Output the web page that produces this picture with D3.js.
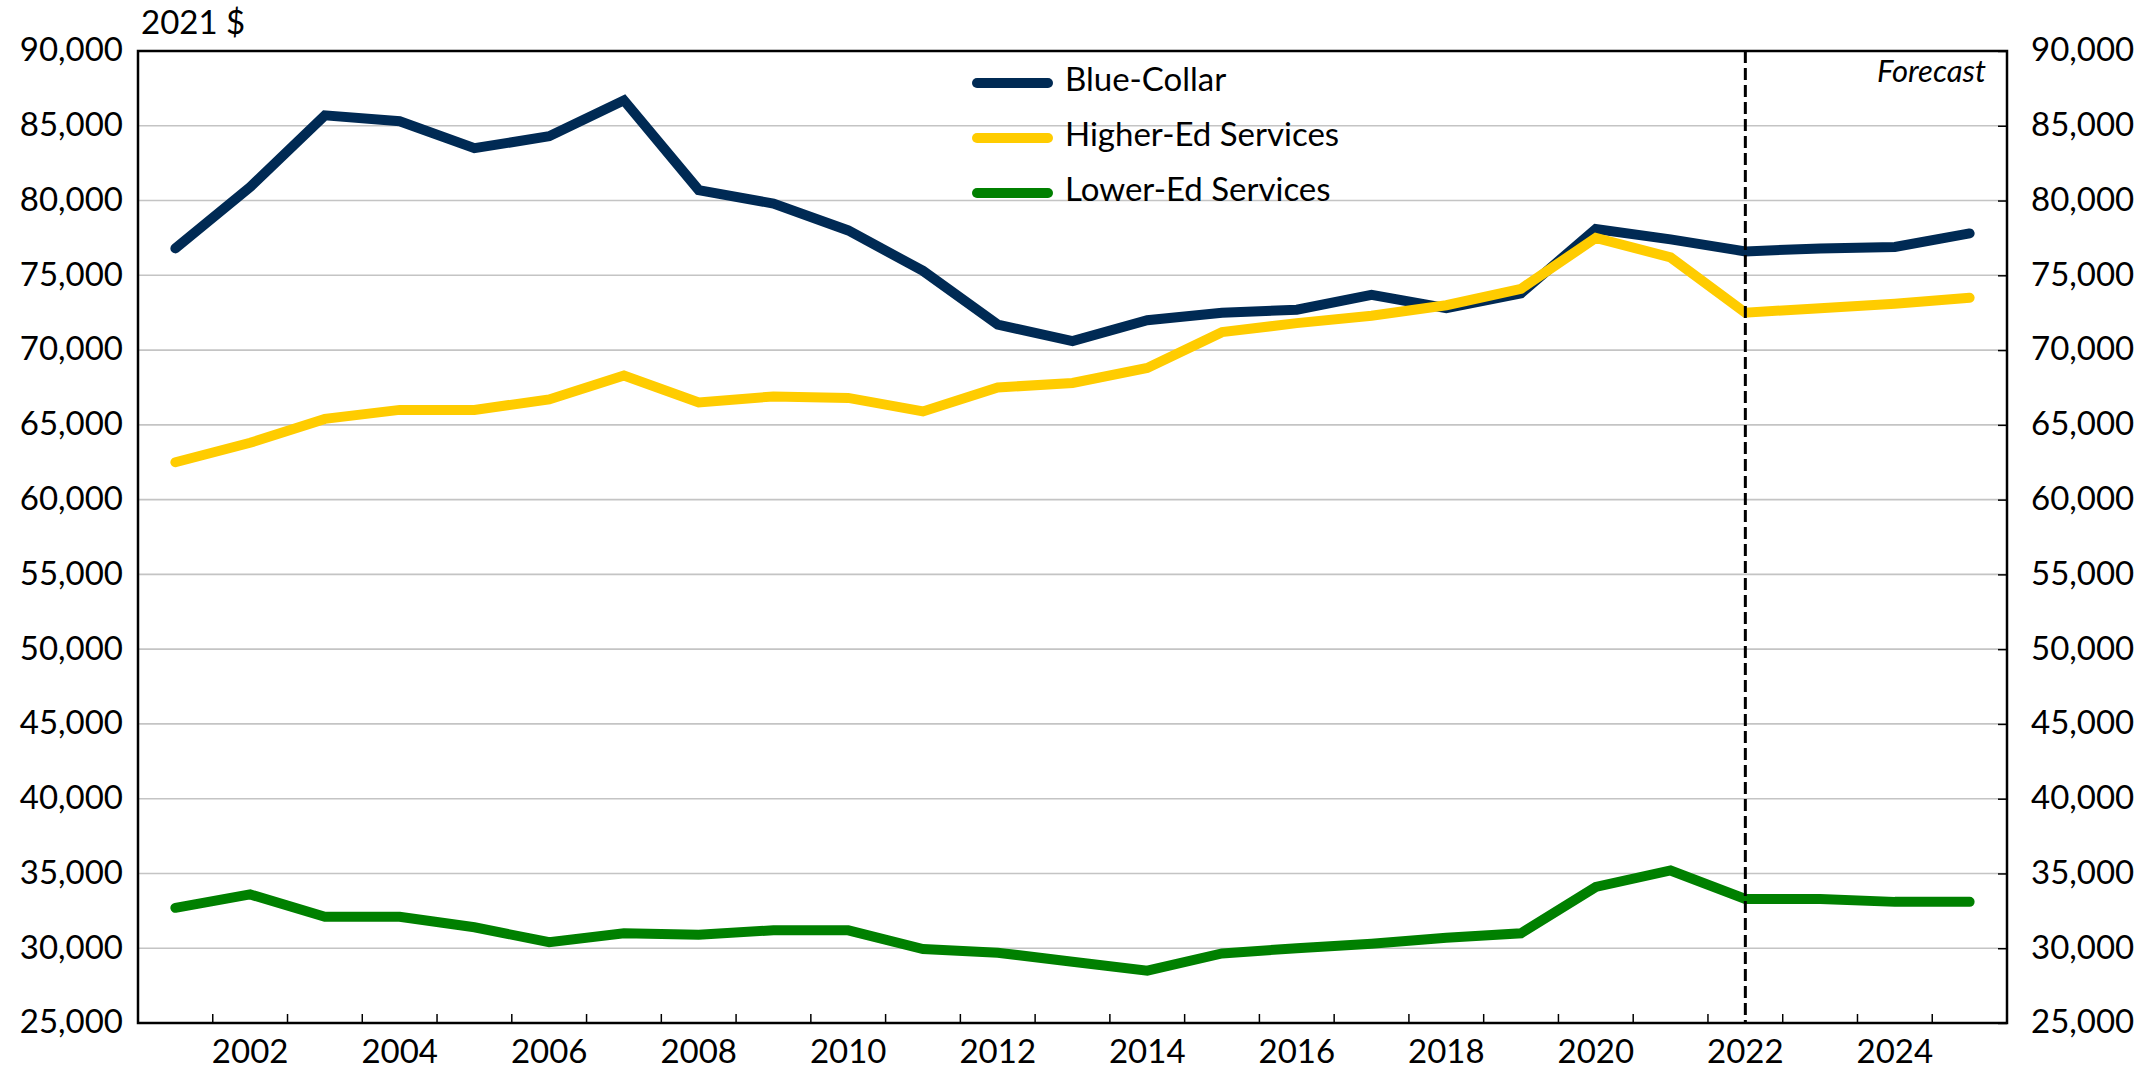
<!DOCTYPE html>
<html>
<head>
<meta charset="utf-8">
<script src="https://cdn.jsdelivr.net/npm/d3@7"></script>
<style>
    body { margin: 0; background: #fff; }
    text { font-family: Lato, "Open Sans", sans-serif; fill: #000; }
</style>
</head>
<body>
<div id="chart"></div>
<script>
//数据开始
var years = [2001, 2002, 2003, 2004, 2005, 2006, 2007, 2008, 2009, 2010, 2011, 2012, 2013,
    2014, 2015, 2016, 2017, 2018, 2019, 2020, 2021, 2022, 2023, 2024, 2025];
var blueCollar = [76800, 80900, 85700, 85300, 83500, 84300, 86700, 80700, 79800, 78000, 75300, 71700, 70600,
    72000, 72500, 72700, 73700, 72800, 73800, 78100, 77400, 76600, 76800, 76900, 77800];
var higherEd = [62500, 63800, 65400, 66000, 66000, 66700, 68300, 66500, 66900, 66800, 65900, 67500, 67800,
    68800, 71200, 71800, 72300, 73000, 74100, 77500, 76200, 72500, 72800, 73100, 73500];
var lowerEd = [32700, 33600, 32100, 32100, 31400, 30400, 31000, 30900, 31200, 31200, 29950, 29700, 29100,
    28500, 29650, 30000, 30300, 30700, 31000, 34100, 35200, 33300, 33300, 33100, 33100];
var seriesNames = ['Blue-Collar', 'Higher-Ed Services', 'Lower-Ed Services'];
var seriesColors = ['#002a54', '#ffcc00', '#008000'];
var yTicks = [25000, 30000, 35000, 40000, 45000, 50000, 55000, 60000, 65000, 70000, 75000, 80000, 85000, 90000];
var xLabelYears = [2002, 2004, 2006, 2008, 2010, 2012, 2014, 2016, 2018, 2020, 2022, 2024];
var forecastYear = 2022;
//数据结束

var width = 2152,
    height = 1070;
// 绘图区的边界 (不能用 top 这个名字, 会和 window.top 冲突)
var plotLeft = 138, plotRight = 2007, plotTop = 51, plotBottom = 1023;

var svg = d3.select('#chart').append('svg')
    .attr('width', width)
    .attr('height', height);

var x = d3.scaleBand()
    .domain(years)
    .range([plotLeft, plotRight])
    .padding(0);
var y = d3.scaleLinear()
    .domain([25000, 90000])
    .range([plotBottom, plotTop]);

function cx(yr) {
    return x(yr) + x.bandwidth() / 2;
}
var fmt = d3.format(',');

// 网格线
svg.append('g').selectAll('line')
    .data(yTicks)
    .enter()
    .append('line')
    .attr('x1', plotLeft)
    .attr('x2', plotRight)
    .attr('y1', function(d) { return y(d); })
    .attr('y2', function(d) { return y(d); })
    .style('stroke', '#c4c4c4')
    .style('stroke-width', 1.6);

// 左轴
var leftAxis = svg.append('g')
    .attr('transform', 'translate(' + plotLeft + ',0)')
    .call(d3.axisLeft(y).tickValues(yTicks).tickSize(0).tickPadding(15).tickFormat(fmt));
// 右轴, 刻度朝内
var rightAxis = svg.append('g')
    .attr('transform', 'translate(' + plotRight + ',0)')
    .call(d3.axisRight(y).tickValues(yTicks).tickSizeInner(-9).tickSizeOuter(0).tickPadding(24).tickFormat(fmt));
[leftAxis, rightAxis].forEach(function(g) {
    g.selectAll('.domain').remove();
    g.selectAll('text')
        .style('font-size', '33px')
        .attr('dy', '0.3em');
    g.selectAll('line').style('stroke', '#000').style('stroke-width', 1.5);
});

// 底部刻度在年份之间
svg.append('g').selectAll('line')
    .data(years)
    .enter()
    .append('line')
    .attr('x1', function(d) { return x(d); })
    .attr('x2', function(d) { return x(d); })
    .attr('y1', plotBottom)
    .attr('y2', plotBottom - 9)
    .style('stroke', '#000')
    .style('stroke-width', 1.5);

var bottomAxis = svg.append('g')
    .attr('transform', 'translate(0,' + plotBottom + ')')
    .call(d3.axisBottom(x).tickValues(xLabelYears).tickSize(0).tickPadding(0));
bottomAxis.select('.domain').remove();
bottomAxis.selectAll('text')
    .attr('y', 40)
    .attr('dy', 0)
    .style('font-size', '33px');

// 边框
svg.append('rect')
    .attr('x', plotLeft)
    .attr('y', plotTop)
    .attr('width', plotRight - plotLeft)
    .attr('height', plotBottom - plotTop)
    .style('fill', 'none')
    .style('stroke', '#000')
    .style('stroke-width', 2.5);

// 折线
var line = d3.line()
    .x(function(d, i) { return cx(years[i]); })
    .y(function(d) { return y(d); });

[blueCollar, higherEd, lowerEd].forEach(function(data, i) {
    svg.append('path')
        .datum(data)
        .attr('d', line)
        .style('fill', 'none')
        .style('stroke', seriesColors[i])
        .style('stroke-width', 10)
        .style('stroke-linecap', 'round')
        .style('stroke-linejoin', 'miter');
});

// 预测分割线
svg.append('line')
    .attr('x1', cx(forecastYear))
    .attr('x2', cx(forecastYear))
    .attr('y1', plotTop)
    .attr('y2', plotBottom)
    .style('stroke', '#000')
    .style('stroke-width', 3)
    .style('stroke-dasharray', '12,5');

svg.append('text')
    .attr('x', plotRight - 21)
    .attr('y', 82)
    .attr('text-anchor', 'end')
    .style('font-size', '31px')
    .style('font-style', 'italic')
    .text('Forecast');

svg.append('text')
    .attr('x', 141)
    .attr('y', 34)
    .style('font-size', '33px')
    .text('2021 $');

// 图例
var legend = svg.append('g').selectAll('g')
    .data(seriesNames)
    .enter()
    .append('g')
    .attr('transform', function(d, i) {
        return 'translate(977,' + (83 + i * 55) + ')';
    });
legend.append('line')
    .attr('x1', 0)
    .attr('x2', 71)
    .style('stroke', function(d, i) { return seriesColors[i]; })
    .style('stroke-width', 10)
    .style('stroke-linecap', 'round');
legend.append('text')
    .attr('x', 88)
    .attr('y', 8)
    .style('font-size', '33px')
    .text(function(d) { return d; });
</script>
</body>
</html>
